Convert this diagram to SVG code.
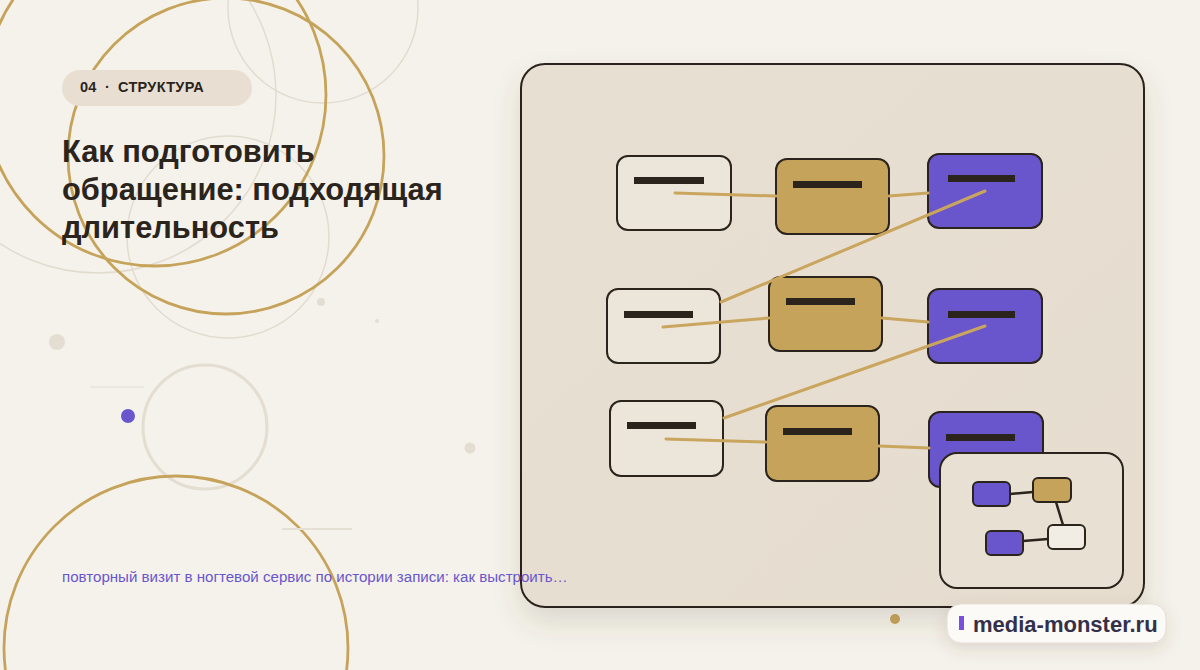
<svg xmlns="http://www.w3.org/2000/svg" width="1200" height="670" viewBox="0 0 1200 670">
  <defs>
    <style>
      .deco-gold { fill: none; stroke: #c6a35a; stroke-width: 2.8; }
      .deco-light { fill: none; stroke: #e2dbcf; stroke-width: 1.5; }
      .node { stroke: #2a241c; stroke-width: 2; }
      .light { fill: #ece5da; }
      .gold { fill: #c6a35a; }
      .purple { fill: #6a56cc; }
      .bar { fill: #2a241c; }
      .edge { stroke: #c9a55e; stroke-width: 3; fill: none; stroke-linecap: round; }
      .mini { stroke: #2a241c; stroke-width: 2; }
      .mini-edge { stroke: #2a241c; stroke-width: 2.5; fill: none; }
      .sans { font-family: "Liberation Sans", Arial, sans-serif; }
    </style>
    <linearGradient id="panelGrad" x1="0" y1="0" x2="1" y2="1">
      <stop offset="0" stop-color="#e7dfd2"/>
      <stop offset="1" stop-color="#e6ddcf"/>
    </linearGradient>
    <filter id="shadow" x="-20%" y="-20%" width="140%" height="150%">
      <feDropShadow dx="0" dy="14" stdDeviation="14" flood-color="#5a4a30" flood-opacity="0.16"/>
    </filter>
    <filter id="badgeShadow" x="-20%" y="-40%" width="140%" height="200%">
      <feDropShadow dx="0" dy="6" stdDeviation="8" flood-color="#5a4a30" flood-opacity="0.14"/>
    </filter>
  </defs>

  <!-- background -->
  <rect x="0" y="0" width="1200" height="670" fill="#f5f2eb"/>

  <!-- decorative circles -->
  <g id="decor">
    <circle class="deco-light" cx="98" cy="95" r="178"/>
    <circle class="deco-light" cx="323" cy="8" r="95"/>
    <circle class="deco-light" cx="228" cy="237" r="101"/>
    <circle class="deco-gold" cx="155" cy="95" r="171"/>
    <circle class="deco-gold" cx="226" cy="156" r="158"/>
    <circle cx="205" cy="427" r="62" fill="none" stroke="#e4ddd1" stroke-width="3"/>
    <circle class="deco-gold" cx="176" cy="648" r="172" stroke-width="2.2"/>
    <circle cx="57" cy="342" r="8" fill="#e4ddd1"/>
    <circle cx="128" cy="416" r="7" fill="#6a56cc"/>
    <circle cx="321" cy="302" r="4" fill="#e4ddd1"/>
    <circle cx="377" cy="321" r="2" fill="#e4ddd1"/>
    <circle cx="470" cy="448" r="5.5" fill="#e4ddd1"/>
    <circle cx="895" cy="619" r="5" fill="#c6a35a"/>
    <line x1="90" y1="387" x2="144" y2="387" stroke="#e4ddd1" stroke-width="1"/>
    <line x1="282" y1="529" x2="352" y2="529" stroke="#e6dfd3" stroke-width="2"/>
  </g>

  <!-- left texts -->
  <g id="tag">
    <rect x="62" y="70" width="190" height="36" rx="18" fill="#e8dfd2"/>
    <text class="sans" y="92" font-size="14.5" font-weight="700" fill="#2a241c" letter-spacing="0.3"><tspan x="80">04</tspan><tspan x="105">·</tspan><tspan x="118">СТРУКТУРА</tspan></text>
  </g>
  <g id="title">
    <text class="sans" font-size="30.8" font-weight="700" fill="#2a241c">
      <tspan x="62" y="162">Как подготовить</tspan>
      <tspan x="62" y="200">обращение: подходящая</tspan>
      <tspan x="62" y="238">длительность</tspan>
    </text>
  </g>

  <!-- panel -->
  <g id="panel">
    <rect x="521" y="64" width="623" height="543" rx="24" fill="url(#panelGrad)" stroke="#2a241c" stroke-width="2" filter="url(#shadow)"/>
  </g>

  <g id="subtitle">
    <text class="sans" x="62" y="582" font-size="15.1" fill="#6a56cc">повторный визит в ногтевой сервис по истории записи: как выстроить…</text>
  </g>

  <!-- nodes -->
  <g id="node-r1c1">
    <rect class="node light" x="617" y="156" width="114" height="74" rx="11"/>
    <rect class="bar" x="634" y="177" width="70" height="7"/>
  </g>
  <g id="node-r1c2">
    <rect class="node gold" x="776" y="159" width="113" height="75" rx="11"/>
    <rect class="bar" x="793" y="181" width="69" height="7"/>
  </g>
  <g id="node-r1c3">
    <rect class="node purple" x="928" y="154" width="114" height="74" rx="11"/>
    <rect class="bar" x="948" y="175" width="67" height="7"/>
  </g>
  <g id="node-r2c1">
    <rect class="node light" x="607" y="289" width="113" height="74" rx="11"/>
    <rect class="bar" x="624" y="311" width="69" height="7"/>
  </g>
  <g id="node-r2c2">
    <rect class="node gold" x="769" y="277" width="113" height="74" rx="11"/>
    <rect class="bar" x="786" y="298" width="69" height="7"/>
  </g>
  <g id="node-r2c3">
    <rect class="node purple" x="928" y="289" width="114" height="74" rx="11"/>
    <rect class="bar" x="948" y="311" width="67" height="7"/>
  </g>
  <g id="node-r3c1">
    <rect class="node light" x="610" y="401" width="113" height="75" rx="11"/>
    <rect class="bar" x="627" y="422" width="69" height="7"/>
  </g>
  <g id="node-r3c2">
    <rect class="node gold" x="766" y="406" width="113" height="75" rx="11"/>
    <rect class="bar" x="783" y="428" width="69" height="7"/>
  </g>
  <g id="node-r3c3">
    <rect class="node purple" x="929" y="412" width="114" height="75" rx="11"/>
    <rect class="bar" x="946" y="434" width="69" height="7"/>
  </g>

  <!-- connectors -->
  <g id="connectors">
    <line class="edge" x1="675" y1="193" x2="776" y2="196"/>
    <line class="edge" x1="889" y1="196" x2="928" y2="193"/>
    <line class="edge" x1="985" y1="191" x2="721" y2="302"/>
    <line class="edge" x1="663" y1="327" x2="769" y2="318"/>
    <line class="edge" x1="882" y1="318" x2="928" y2="322"/>
    <line class="edge" x1="985" y1="326" x2="724" y2="418"/>
    <line class="edge" x1="666" y1="439" x2="766" y2="442"/>
    <line class="edge" x1="879" y1="446" x2="929" y2="448"/>
  </g>

  <!-- inset mini map -->
  <g id="inset">
    <rect x="940" y="453" width="183" height="135" rx="17" fill="#e8e0d3" stroke="#2a241c" stroke-width="2"/>
    <line class="mini-edge" x1="1010" y1="494" x2="1033" y2="492"/>
    <line class="mini-edge" x1="1056" y1="502" x2="1063" y2="525"/>
    <line class="mini-edge" x1="1023" y1="541" x2="1048" y2="539"/>
    <rect class="mini purple" x="973" y="482" width="37" height="24" rx="5"/>
    <rect class="mini gold" x="1033" y="478" width="38" height="24" rx="5"/>
    <rect class="mini" x="1048" y="525" width="37" height="24" rx="5" fill="#f2ede4"/>
    <rect class="mini purple" x="986" y="531" width="37" height="24" rx="5"/>
  </g>

  <!-- badge -->
  <g id="badge">
    <rect x="947" y="604" width="219" height="39" rx="14" fill="#fbfaf7" stroke="#e3ddd2" stroke-width="1" filter="url(#badgeShadow)"/>
    <rect x="959" y="616" width="5" height="14" fill="#7a4fe0"/>
    <text class="sans" x="973" y="632" font-size="22" font-weight="700" fill="#34304a">media-monster.ru</text>
  </g>
</svg>
